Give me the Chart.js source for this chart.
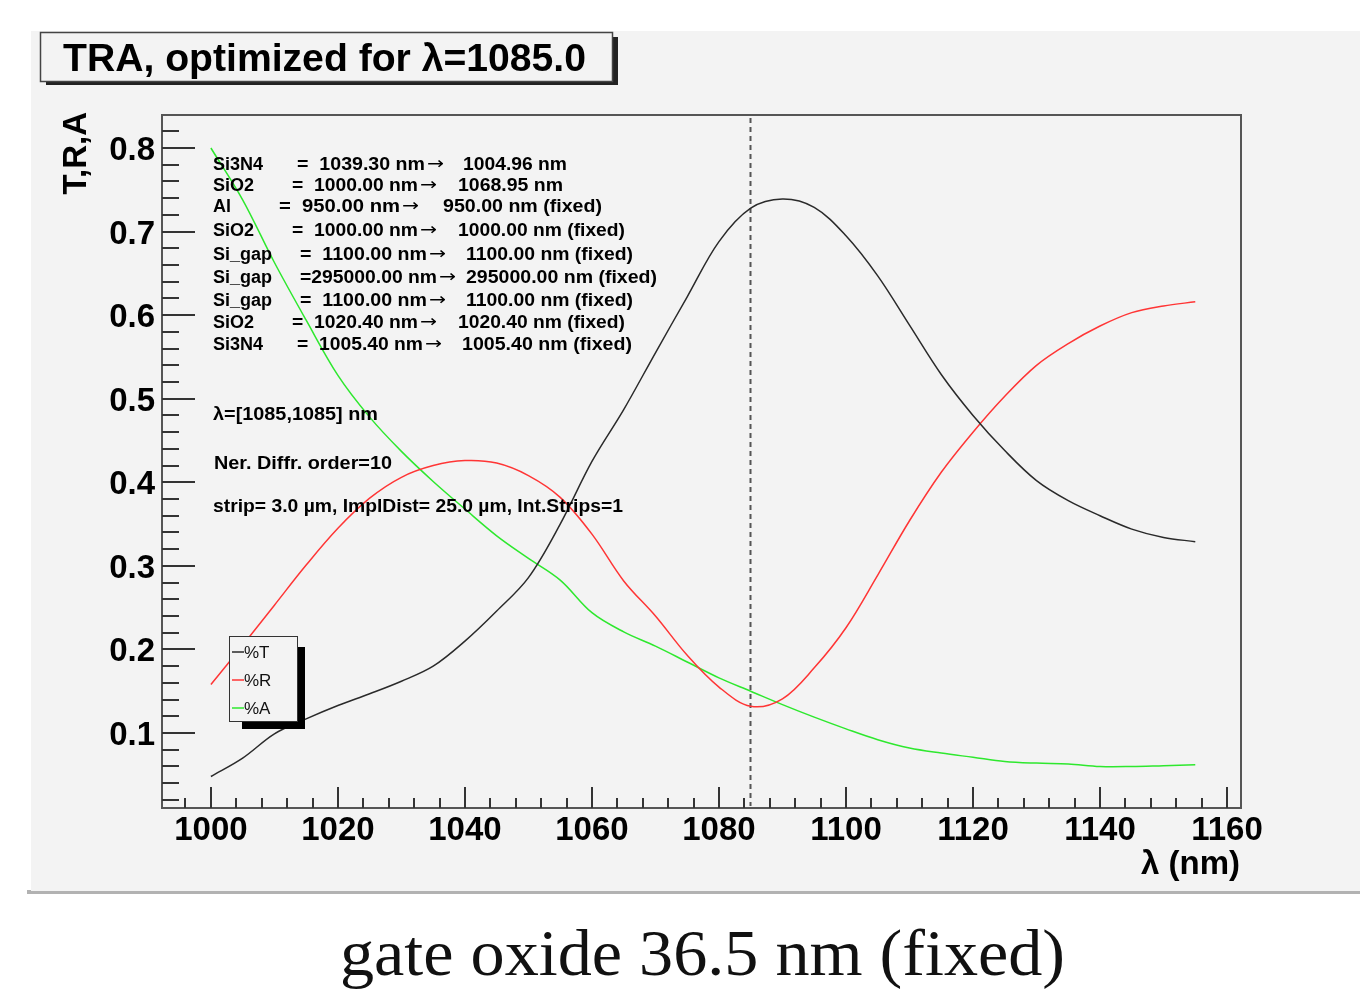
<!DOCTYPE html>
<html>
<head>
<meta charset="utf-8">
<script src="https://cdn.jsdelivr.net/npm/chart.js@4.4.1/dist/chart.umd.min.js"></script>
<style>
html, body { margin: 0; padding: 0; background: #fff; }
#wrap { width: 1360px; height: 993px; }
</style>
</head>
<body>
<div id="wrap"><canvas id="mycanvas" width="1360" height="993"></canvas></div>
<script>
// wavelength in nm
var wavelength = [1000, 1005, 1010, 1015, 1020, 1025, 1030, 1035, 1040, 1045, 1050, 1055, 1060, 1065, 1070, 1075,
	1080, 1085, 1090, 1095, 1100, 1105, 1110, 1115, 1120, 1125, 1130, 1135, 1140, 1145, 1150, 1155];
var transmission = [0.048, 0.070, 0.099, 0.117, 0.133, 0.147, 0.162, 0.180, 0.210, 0.246, 0.286, 0.350, 0.425, 0.487, 0.555, 0.622,
	0.688, 0.728, 0.739, 0.729, 0.695, 0.647, 0.588, 0.529, 0.480, 0.438, 0.402, 0.378, 0.360, 0.344, 0.334, 0.329];
var reflection = [0.158, 0.205, 0.253, 0.301, 0.345, 0.381, 0.406, 0.420, 0.426, 0.423, 0.408, 0.382, 0.338, 0.282, 0.240, 0.193,
	0.155, 0.132, 0.141, 0.178, 0.226, 0.289, 0.354, 0.412, 0.460, 0.503, 0.540, 0.566, 0.587, 0.603, 0.611, 0.616];
var absorption = [0.800, 0.738, 0.663, 0.594, 0.528, 0.478, 0.437, 0.401, 0.368, 0.336, 0.309, 0.283, 0.244, 0.221, 0.204, 0.185,
	0.166, 0.150, 0.134, 0.119, 0.105, 0.092, 0.082, 0.076, 0.071, 0.066, 0.064, 0.063, 0.060, 0.060, 0.061, 0.062];

var xTickLabels = [1000, 1020, 1040, 1060, 1080, 1100, 1120, 1140, 1160];
var yTickLabels = [0.1, 0.2, 0.3, 0.4, 0.5, 0.6, 0.7, 0.8];
var targetLambda = 1085;

var layerNames = ['Si3N4', 'SiO2', 'Al', 'SiO2', 'Si_gap', 'Si_gap', 'Si_gap', 'SiO2', 'Si3N4'];
var layerStart = ['1039.30', '1000.00', '950.00', '1000.00', '1100.00', '295000.00', '1100.00', '1020.40', '1005.40'];
var layerEnd = ['1004.96', '1068.95', '950.00', '1000.00', '1100.00', '295000.00', '1100.00', '1020.40', '1005.40'];
var layerFixed = [false, false, true, true, true, true, true, true, true];

var SANS = '"Liberation Sans", Arial, Helvetica, sans-serif';

function points(ys) {
	var out = [];
	for (var i = 0; i < wavelength.length; i++) out.push({x: wavelength[i], y: ys[i]});
	return out;
}

// draw text squeezed/stretched to a given width
function fitText(ctx, text, x, y, w) {
	var m = ctx.measureText(text).width;
	ctx.save();
	ctx.translate(x, y);
	ctx.scale(w / m, 1);
	ctx.fillText(text, 0, 0);
	ctx.restore();
}

var rootStyle = {
	id: 'rootStyle',
	beforeDraw: function(chart) {
		var ctx = chart.ctx;
		ctx.save();
		ctx.fillStyle = '#fff';
		ctx.fillRect(0, 0, chart.width, chart.height);
		ctx.fillStyle = '#b2b2b2';
		ctx.fillRect(27, 890, 1333, 4);
		ctx.fillStyle = '#f3f3f3';
		ctx.fillRect(31, 31, 1329, 860);
		ctx.restore();
	},
	beforeDatasetsDraw: function(chart) {
		var ctx = chart.ctx, a = chart.chartArea;
		var px = Math.round(chart.scales.x.getPixelForValue(targetLambda)) - 0.5;
		ctx.save();
		ctx.strokeStyle = '#555';
		ctx.lineWidth = 2;
		ctx.setLineDash([5, 4]);
		ctx.beginPath();
		ctx.moveTo(px, a.top + 3);
		ctx.lineTo(px, a.bottom - 2);
		ctx.stroke();
		ctx.restore();
	},
	afterDraw: function(chart) {
		var ctx = chart.ctx, a = chart.chartArea;
		var xs = chart.scales.x, ys = chart.scales.y;
		var i, v, p;
		ctx.save();

		// frame
		ctx.strokeStyle = '#555';
		ctx.lineWidth = 2;
		ctx.strokeRect(a.left, a.top, a.right - a.left, a.bottom - a.top);

		// ticks
		ctx.strokeStyle = '#333';
		ctx.lineWidth = 2;
		ctx.beginPath();
		for (v = 996; v <= 1160; v += 4) {
			p = Math.round(xs.getPixelForValue(v));
			ctx.moveTo(p, a.bottom);
			ctx.lineTo(p, a.bottom - (v % 20 === 0 ? 21 : 10));
		}
		for (i = 1; i <= 41; i++) {
			p = Math.round(ys.getPixelForValue(i * 0.02));
			ctx.moveTo(a.left, p);
			ctx.lineTo(a.left + (i % 5 === 0 ? 33 : 17), p);
		}
		ctx.stroke();

		// tick labels
		ctx.fillStyle = '#000';
		ctx.font = 'bold 33px ' + SANS;
		ctx.textAlign = 'center';
		ctx.textBaseline = 'alphabetic';
		xTickLabels.forEach(function(t) {
			ctx.fillText(String(t), xs.getPixelForValue(t), 840);
		});
		ctx.textAlign = 'right';
		yTickLabels.forEach(function(t) {
			ctx.fillText(t.toFixed(1), 155, ys.getPixelForValue(t) + 12);
		});

		// axis titles
		ctx.textAlign = 'right';
		ctx.fillText('\u03bb (nm)', 1240, 874);
		ctx.save();
		ctx.translate(86, 112);
		ctx.rotate(-Math.PI / 2);
		ctx.textAlign = 'right';
		ctx.fillText('T,R,A', 0, 0);
		ctx.restore();

		// title box
		ctx.fillStyle = '#222';
		ctx.fillRect(46, 81, 572, 4);
		ctx.fillRect(613, 37, 5, 48);
		ctx.fillStyle = '#f3f3f3';
		ctx.fillRect(40, 32, 573, 50);
		ctx.strokeStyle = '#444';
		ctx.lineWidth = 1.5;
		ctx.strokeRect(40.5, 32.5, 572, 49);
		ctx.fillStyle = '#000';
		ctx.textAlign = 'left';
		ctx.font = 'bold 38px ' + SANS;
		fitText(ctx, 'TRA, optimized for \u03bb=1085.0', 63, 71, 523);

		// layer annotations
		var eqX = [297, 292, 279, 292, 300, 300, 300, 292, 297];
		var eqEnd = [425, 418, 400, 418, 427, 437, 427, 418, 423];
		var valX = [463, 458, 443, 458, 466, 466, 466, 458, 462];
		var endX = [567, 563, 602, 625, 633, 657, 633, 625, 632];
		var rowY = [170, 191, 212, 236, 260, 283, 306, 328, 350];
		for (i = 0; i < layerNames.length; i++) {
			ctx.font = 'bold 18px ' + SANS;
			ctx.fillText(layerNames[i], 213, rowY[i]);
			var eq = (layerStart[i].length > 8 ? '=' : '=  ') + layerStart[i] + ' nm';
			fitText(ctx, eq, eqX[i], rowY[i], eqEnd[i] - eqX[i]);
			var rest = layerEnd[i] + ' nm' + (layerFixed[i] ? ' (fixed)' : '');
			fitText(ctx, rest, valX[i], rowY[i], endX[i] - valX[i]);
			ctx.font = '17px "DejaVu Sans", sans-serif';
			fitText(ctx, '\u2192', eqEnd[i] + 2, rowY[i] - 1, 17);
		}
		ctx.font = 'bold 18px ' + SANS;
		fitText(ctx, '\u03bb=[1085,1085] nm', 213, 420, 165);
		fitText(ctx, 'Ner. Diffr. order=10', 214, 469, 178);
		fitText(ctx, 'strip= 3.0 \u00b5m, ImplDist= 25.0 \u00b5m, Int.Strips=1', 213, 512, 410);

		// legend
		ctx.fillStyle = '#000';
		ctx.fillRect(242, 647, 63, 82);
		ctx.fillStyle = '#f3f3f3';
		ctx.fillRect(229, 636, 68, 86);
		ctx.strokeStyle = '#333';
		ctx.lineWidth = 1;
		ctx.strokeRect(229.5, 636.5, 68, 85);
		var legY = [652, 680, 708];
		ctx.font = '17px ' + SANS;
		ctx.textBaseline = 'middle';
		chart.data.datasets.forEach(function(ds, k) {
			ctx.strokeStyle = ds.borderColor;
			ctx.lineWidth = 1.5;
			ctx.beginPath();
			ctx.moveTo(232, legY[k]);
			ctx.lineTo(244, legY[k]);
			ctx.stroke();
			ctx.fillStyle = '#111';
			ctx.fillText(ds.label, 244, legY[k] + 1);
		});

		// caption
		ctx.textBaseline = 'alphabetic';
		ctx.textAlign = 'left';
		ctx.font = '66px "Liberation Serif", "Times New Roman", serif';
		fitText(ctx, 'gate oxide 36.5 nm (fixed)', 340, 975, 725);

		ctx.restore();
	}
};

var chartdata = {
	datasets: [
		{ label: '%T', data: points(transmission), borderColor: '#2a2a2a', borderWidth: 1.5 },
		{ label: '%R', data: points(reflection), borderColor: '#ff3535', borderWidth: 1.5 },
		{ label: '%A', data: points(absorption), borderColor: '#2ee82e', borderWidth: 1.5 }
	]
};

var ctx = document.getElementById('mycanvas');
var LineGraph = new Chart(ctx, {
	type: 'line',
	data: chartdata,
	options: {
		responsive: false,
		animation: false,
		devicePixelRatio: 1,
		layout: { padding: { left: 162, top: 115, right: 119, bottom: 185 } },
		elements: {
			point: { radius: 0 },
			line: { tension: 0.35, fill: false }
		},
		plugins: { legend: { display: false }, tooltip: { enabled: false }, title: { display: false } },
		scales: {
			x: { type: 'linear', min: 992.3, max: 1162.2, display: false },
			y: { type: 'linear', min: 0.0103, max: 0.8395, display: false }
		}
	},
	plugins: [rootStyle]
});
</script>
</body>
</html>
